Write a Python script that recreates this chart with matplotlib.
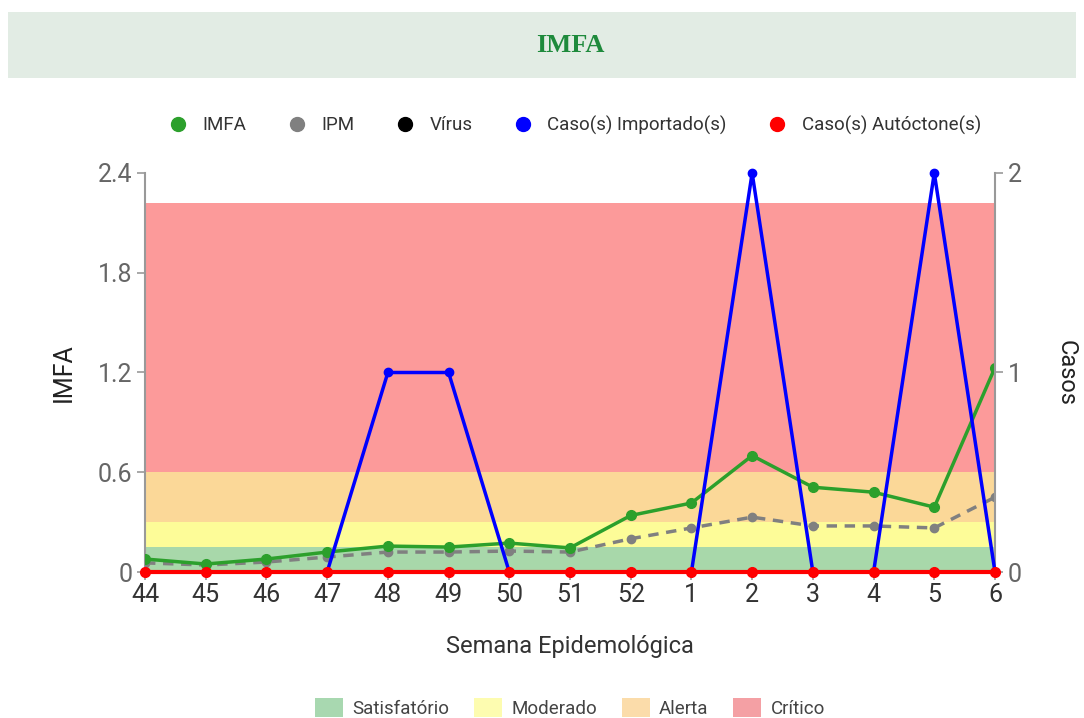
import matplotlib
matplotlib.use("Agg")
import matplotlib.pyplot as plt
from matplotlib.patches import Rectangle
from matplotlib.lines import Line2D

weeks = ["44", "45", "46", "47", "48", "49", "50", "51", "52", "1", "2", "3", "4", "5", "6"]
imfa = [0.078, 0.048, 0.078, 0.12, 0.156, 0.15, 0.174, 0.145, 0.34, 0.415, 0.70, 0.51, 0.48, 0.39, 1.23]
ipm = [0.055, 0.042, 0.06, 0.09, 0.12, 0.12, 0.126, 0.12, 0.20, 0.265, 0.33, 0.277, 0.277, 0.265, 0.45]
imported = [0, 0, 0, 0, 1, 1, 0, 0, 0, 0, 2, 0, 0, 2, 0]
autochthonous = [0, 0, 0, 0, 0, 0, 0, 0, 0, 0, 0, 0, 0, 0, 0]
band_names = ["Satisfatório", "Moderado", "Alerta", "Crítico"]
band_limits = [0, 0.15, 0.3, 0.6, 2.22]
band_colors = ["#a8d8aa", "#fdfc98", "#fbd898", "#fc9a9a"]
legend_band_colors = ["#a8d8b0", "#fdfcb0", "#fbdcaa", "#f4a0a4"]

FONT = ["Roboto", "DejaVu Sans"]

fig = plt.figure(figsize=(10.84, 7.18), dpi=100)

# title banner
fig.patches.append(Rectangle((8 / 1084, 1 - 78 / 718), 1068 / 1084, 66 / 718,
                             transform=fig.transFigure, facecolor="#e2ece4", edgecolor="none"))
fig.text(570 / 1084, 1 - 46 / 718, "IMFA", ha="center", va="center", fontsize=19,
         fontweight="bold", color="#1e8a3c", family=["Liberation Serif", "DejaVu Serif"])

ax = fig.add_axes([145 / 1084, 1 - 572 / 718, 850 / 1084, 399 / 718])
x = list(range(len(weeks)))

for i in range(len(band_names)):
    ax.axhspan(band_limits[i], band_limits[i + 1], color=band_colors[i], zorder=0, lw=0)

ax.plot(x, ipm, color="#808080", lw=2.5, ls=(0, (3, 2.2)), marker="o", ms=6, zorder=3)
ax.plot(x, imfa, color="#2ca02c", lw=2.5, marker="o", ms=7, zorder=4)

ax.set_xlim(0, len(weeks) - 1)
ax.set_ylim(0, 2.4)
ax.set_yticks([0, 0.6, 1.2, 1.8, 2.4])
ax.set_yticklabels(["0", "0.6", "1.2", "1.8", "2.4"])
ax.set_xticks(x)
ax.set_xticklabels(weeks)
for s in ["top", "right", "bottom"]:
    ax.spines[s].set_visible(False)
ax.spines["left"].set_color("#999999")
ax.spines["left"].set_linewidth(1.5)
ax.tick_params(axis="y", colors="#999999", length=6, width=1.2, labelsize=18, labelcolor="#666666", pad=3)
ax.tick_params(axis="x", colors="#999999", length=6, width=1.2, labelsize=18, labelcolor="#333333", pad=2)
for lab in ax.get_xticklabels() + ax.get_yticklabels():
    lab.set_family(FONT)
ax.set_ylabel("IMFA", fontsize=18, color="#222222", family=FONT, labelpad=16)
ax.set_xlabel("Semana Epidemológica", fontsize=17, color="#333333", family=FONT, labelpad=20)

ax2 = ax.twinx()
ax2.set_ylim(0, 2)
ax2.set_yticks([0, 1, 2])
ax2.plot(x, imported, color="#0000ff", lw=2.5, marker="o", ms=6, zorder=5, clip_on=False)
ax2.plot(x, autochthonous, color="#ff0000", lw=3, marker="o", ms=7, zorder=6, clip_on=False)
for s in ["top", "left", "bottom"]:
    ax2.spines[s].set_visible(False)
ax2.spines["right"].set_color("#999999")
ax2.spines["right"].set_linewidth(1.5)
ax2.tick_params(axis="y", colors="#999999", length=6, width=1.2, labelsize=18, labelcolor="#666666", pad=3)
for lab in ax2.get_yticklabels():
    lab.set_family(FONT)
ax2.set_ylabel("Casos", fontsize=17, color="#222222", family=FONT, rotation=270, va="center")
ax2.yaxis.set_label_coords((1066 - 145) / 850, 0.5)

# top legend
handles = [
    Line2D([], [], ls="none", marker="o", ms=10, color="#2ca02c"),
    Line2D([], [], ls="none", marker="o", ms=10, color="#808080"),
    Line2D([], [], ls="none", marker="o", ms=10, color="#000000"),
    Line2D([], [], ls="none", marker="o", ms=10, color="#0000ff"),
    Line2D([], [], ls="none", marker="o", ms=10, color="#ff0000"),
]
labels = ["IMFA", "IPM", "Vírus", "Caso(s) Importado(s)", "Caso(s) Autóctone(s)"]
fig.legend(handles, labels, loc="center", bbox_to_anchor=(570 / 1084, 1 - 125 / 718), ncol=5,
           frameon=False, prop={"family": FONT, "size": 13.5}, handletextpad=0.3, columnspacing=1.7,
           labelcolor="#333333")

# bottom legend
bh = [Rectangle((0, 0), 1, 1, facecolor=c, edgecolor="none") for c in legend_band_colors]
fig.legend(bh, band_names, loc="center", bbox_to_anchor=(570 / 1084, 1 - 708 / 718), ncol=4,
           frameon=False, prop={"family": FONT, "size": 13.5}, handletextpad=0.5, columnspacing=1.3,
           handlelength=1.5, handleheight=1.2, labelcolor="#444444")

fig.savefig("out.png", dpi=100, facecolor="white")
